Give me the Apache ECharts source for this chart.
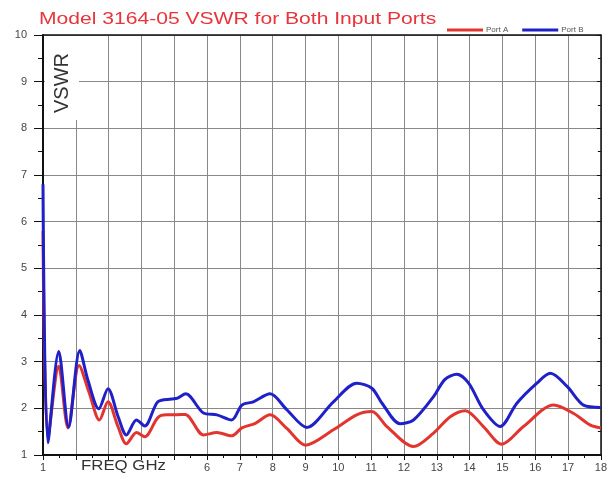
<!DOCTYPE html>
<html>
<head>
<meta charset="utf-8">
<script src="https://cdn.jsdelivr.net/npm/echarts@6/dist/echarts.min.js"></script>
<style>
  html, body { margin: 0; padding: 0; background: #fff; }
  #chart { width: 610px; height: 487px; }
</style>
</head>
<body>
<div id="chart"></div>
<script>
// values
var portAFreq = [1.0, 1.15, 1.48, 1.76, 2.1, 2.4, 2.72, 2.98, 3.29, 3.54, 3.85, 4.1, 4.5, 4.76, 5.0, 5.33, 5.89, 6.3, 6.75, 7.06, 7.47, 7.92, 8.43, 9.0, 9.85, 10.56, 11.02, 11.48, 12.29, 12.9, 13.41, 13.87, 14.42, 14.98, 15.64, 16.56, 17.17, 17.68, 18.0];
var portAVswr = [5.8, 1.35, 2.9, 1.58, 2.92, 2.35, 1.75, 2.14, 1.6, 1.24, 1.48, 1.39, 1.8, 1.86, 1.86, 1.87, 1.43, 1.48, 1.41, 1.58, 1.68, 1.86, 1.57, 1.21, 1.54, 1.86, 1.93, 1.61, 1.18, 1.47, 1.82, 1.95, 1.61, 1.23, 1.61, 2.07, 1.89, 1.64, 1.58];

var portBFreq = [1.0, 1.15, 1.48, 1.78, 2.12, 2.37, 2.7, 2.98, 3.29, 3.54, 3.85, 4.1, 4.5, 4.92, 5.1, 5.35, 5.89, 6.3, 6.75, 7.06, 7.41, 7.92, 8.43, 9.04, 9.85, 10.56, 11.02, 11.33, 11.88, 12.29, 12.9, 13.25, 13.61, 13.97, 14.42, 14.93, 15.44, 16.05, 16.46, 16.97, 17.47, 18.0];
var portBVswr = [6.8, 1.26, 3.22, 1.6, 3.24, 2.6, 1.99, 2.42, 1.82, 1.43, 1.75, 1.62, 2.14, 2.2, 2.22, 2.31, 1.9, 1.86, 1.75, 2.07, 2.14, 2.31, 1.97, 1.59, 2.14, 2.54, 2.43, 2.11, 1.67, 1.75, 2.25, 2.62, 2.73, 2.54, 1.97, 1.61, 2.11, 2.54, 2.75, 2.47, 2.07, 2.02];

var hiddenFreqLabels = [2, 3, 4, 5]; // replaced by the "FREQ GHz" caption

function pairs(xs, ys) {
    return xs.map(function (x, i) { return [x, ys[i]]; });
}

var chart = echarts.init(document.getElementById('chart'));
var font = 'Liberation Sans, Arial, sans-serif';
var labelStyle = { color: '#444', fontSize: 11, fontFamily: font };

chart.setOption({
    animation: false,
    backgroundColor: '#fff',
    legend: {
        left: 442, top: 21,
        icon: 'rect', itemWidth: 36, itemHeight: 3, itemGap: 14,
        textStyle: { color: '#555', fontSize: 8, padding: [0, 0, 0, -2] },
        data: ['Port A', 'Port B']
    },
    grid: { left: 43, right: 9, top: 35, bottom: 32 },
    xAxis: [{
        type: 'value', min: 1, max: 18, interval: 1,
        axisLine: { lineStyle: { color: '#111', width: 2 } },
        axisTick: { length: 5, lineStyle: { color: '#111' } },
        minorTick: { show: true, splitNumber: 2, length: 3, lineStyle: { color: '#111' } },
        splitLine: { show: true, lineStyle: { color: '#888', width: 1 } },
        axisLabel: Object.assign({ margin: 7, formatter: function (v) {
            return hiddenFreqLabels.indexOf(v) >= 0 ? '' : String(v);
        } }, labelStyle)
    }, {
        type: 'value', min: 1, max: 18, interval: 1, position: 'top',
        axisLine: { show: true, onZero: false, lineStyle: { color: '#111', width: 1.5 } },
        axisTick: { show: false }, axisLabel: { show: false }, splitLine: { show: false }
    }],
    yAxis: [{
        type: 'value', min: 1, max: 10, interval: 1,
        axisLine: { show: true, lineStyle: { color: '#111', width: 2 } },
        axisTick: { show: true, length: 9, lineStyle: { color: '#111' } },
        minorTick: { show: true, splitNumber: 2, length: 5, lineStyle: { color: '#111' } },
        splitLine: { show: true, lineStyle: { color: '#888', width: 1 } },
        axisLabel: Object.assign({ margin: 16 }, labelStyle)
    }, {
        type: 'value', min: 1, max: 10, interval: 1, position: 'right',
        axisLine: { show: true, onZero: false, lineStyle: { color: '#111', width: 1.5 } },
        axisTick: { show: true, inside: true, length: 4, lineStyle: { color: '#111' } },
        minorTick: { show: true, splitNumber: 2, length: 3, lineStyle: { color: '#111' } },
        axisLabel: { show: false }, splitLine: { show: false }
    }],
    graphic: [{
        type: 'text', silent: true,
        x: 39, y: 11, scaleX: 1.24,
        style: { text: 'Model 3164-05 VSWR for Both Input Ports', fill: '#e8343a', fontSize: 17, fontFamily: font }
    }, {
        type: 'rect', z: 1, silent: true,
        shape: { x: 45, y: 36, width: 34, height: 84 },
        style: { fill: '#fff' }
    }, {
        type: 'text', z: 2, silent: true,
        x: 52, y: 113, rotation: Math.PI / 2,
        style: { text: 'VSWR', fill: '#333', fontSize: 20, fontFamily: font }
    }, {
        type: 'text', z: 2, silent: true,
        x: 81, y: 459, scaleX: 1.2,
        style: { text: 'FREQ GHz', fill: '#333', fontSize: 14, fontFamily: font }
    }],
    series: [{
        name: 'Port A', type: 'line', z: 3,
        data: pairs(portAFreq, portAVswr),
        smooth: 0.3, showSymbol: false,
        itemStyle: { color: '#e2352f' },
        lineStyle: { color: '#e2352f', width: 3 }
    }, {
        name: 'Port B', type: 'line', z: 4,
        data: pairs(portBFreq, portBVswr),
        smooth: 0.3, showSymbol: false,
        itemStyle: { color: '#2020c8' },
        lineStyle: { color: '#2020c8', width: 3 }
    }]
});
</script>
</body>
</html>
